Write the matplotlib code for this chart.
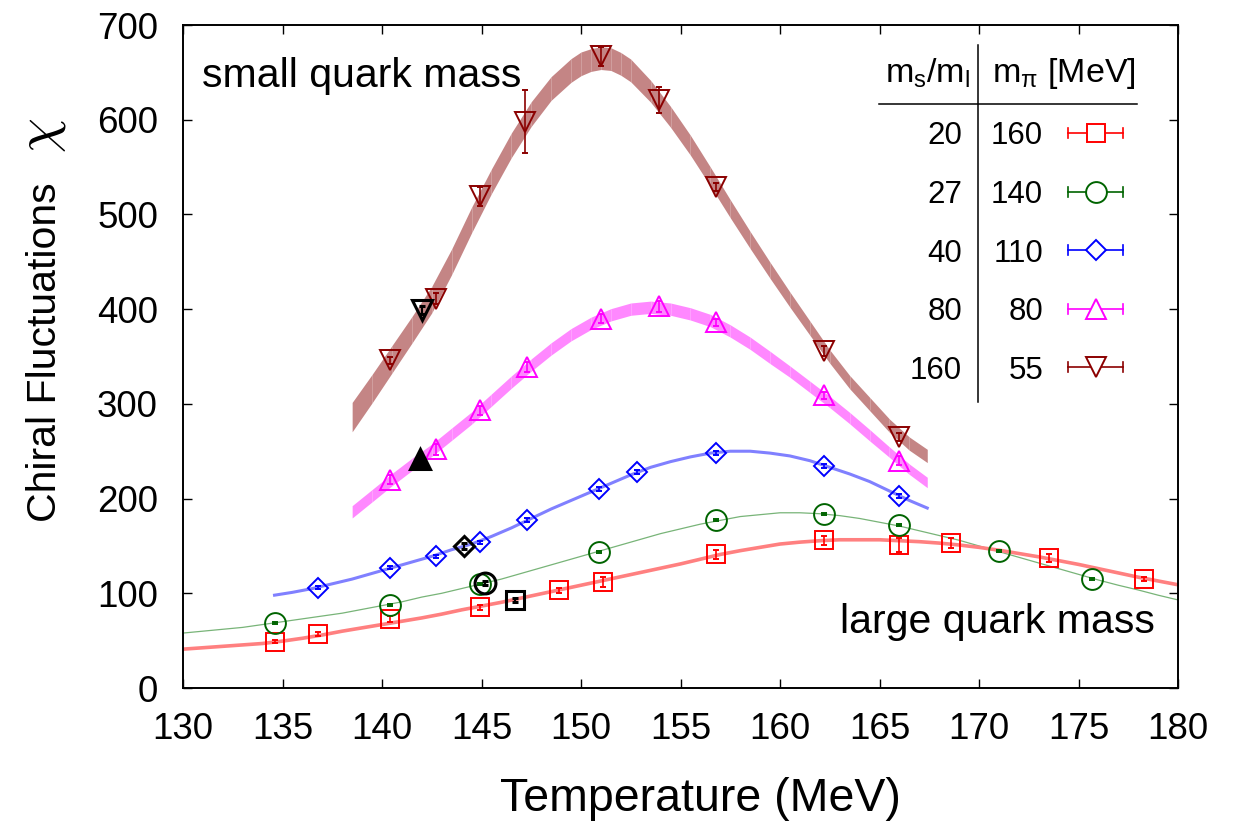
import matplotlib
matplotlib.use('Agg')
import matplotlib.pyplot as plt
from matplotlib.lines import Line2D


W, H = 1242, 825

# Fit bands / lines.
BROWN_FIT_T = [138.5, 139.5, 140.5, 141.5, 142.5, 143.5, 144.5, 145.5, 146.5, 147.5,
               148.5, 149.5, 150.0, 150.5, 151.0, 151.5, 152.0, 152.5, 153.5, 154.5,
               155.5, 156.5, 157.5, 158.5, 159.5, 160.5, 161.5, 162.5, 163.5, 164.5,
               165.5, 166.5, 167.4]
BROWN_FIT_MID = [286, 316, 347, 378, 410, 450, 494, 535, 573, 606,
                 633, 652, 659, 663, 665, 664, 659, 652, 630, 603,
                 573, 540, 506, 473, 441, 410, 380, 350, 323, 300,
                 277, 258, 245]
BROWN_FIT_HALF = [15.5, 15, 14.5, 14, 14, 13.5, 13.5, 13, 13, 13,
                  12.5, 12.5, 12.5, 12, 12, 12, 12, 12, 11.5, 11,
                  10.5, 10, 9.5, 9, 8.5, 8, 7.5, 7, 7, 7,
                  7, 7, 7]

MAGENTA_FIT_T = [138.5, 139.5, 140.5, 141.5, 142.5, 143.5, 144.5, 145.5, 146.5, 147.5,
                 148.5, 149.5, 150.5, 151.5, 152.5, 153.5, 154.5, 155.5, 156.5, 157.5,
                 158.5, 159.5, 160.5, 161.5, 162.5, 163.5, 164.5, 165.5, 166.5, 167.4]
MAGENTA_FIT_MID = [186, 203, 220, 236, 251, 268, 285, 304, 323, 341,
                   358, 373, 385, 394, 400, 402, 400, 395, 388, 377,
                   364, 349, 334, 318, 302, 285, 267, 249, 231, 217]
MAGENTA_FIT_HALF = [6.5, 6.5, 6.5, 6.5, 6.5, 6.5, 6.5, 6.5, 6.5, 6.5,
                    6.5, 6.5, 6.5, 6.5, 6.5, 6.5, 6.5, 6.5, 6.5, 6.5,
                    6.5, 6.5, 6, 6, 6, 6, 6, 5.5, 5.5, 5.5]

BLUE_FIT_T = [134.6, 135.5, 136.5, 137.5, 138.5, 139.5, 140.5, 141.5, 142.5, 143.5,
              144.5, 145.5, 146.5, 147.5, 148.5, 149.5, 150.5, 151.5, 152.5, 153.5,
              154.5, 155.5, 156.5, 157.5, 158.5, 159.5, 160.5, 161.5, 162.5, 163.5,
              164.5, 165.5, 166.5, 167.4]
BLUE_FIT_MID = [98, 101, 105, 110, 115, 121, 127, 133, 139, 146,
                152, 160, 169, 179, 189, 198, 207, 216, 225, 233,
                239, 244, 248, 250, 250, 248, 245, 240, 233, 226,
                218, 208, 198, 190]

GREEN_FIT_T = list(range(130, 181))
GREEN_FIT_MID = [58, 60, 62, 64, 67, 70, 73, 76, 79, 83,
                 87, 91, 96, 100, 105, 110, 115, 121, 127, 133,
                 139, 145, 151, 157, 163, 168, 173, 177, 181, 183,
                 185, 185, 184, 182, 179, 175, 171, 166, 161, 156,
                 150, 144, 138, 132, 126, 120, 114, 108.5, 103.5, 98,
                 93]

RED_FIT_T = list(range(130, 181))
RED_FIT_MID = [41, 42.5, 44, 45.5, 47, 49.5, 52.5, 56, 60, 63.5,
               67, 70.5, 74, 78, 82.5, 86.5, 90.5, 95, 99.5, 104,
               108.5, 113, 117.5, 122, 126.5, 131, 136, 141, 145, 148.5,
               152, 154, 155.5, 156.5, 156.5, 156.5, 155.5, 154.5, 153, 151,
               148.5, 145.5, 142, 138.5, 134.5, 130.5, 126, 121.5, 117, 113,
               109]

# Lattice data points.
RED_T = [134.6, 136.8, 140.4, 144.9, 148.9, 151.1, 156.8, 162.2, 166.0, 168.6, 173.5, 178.3]
RED_CHI = [49, 57, 73, 85, 103, 112, 141, 156, 151, 153, 137, 115]
RED_ERR = [2, 2.5, 3, 3, 3, 5, 5, 5, 7, 5, 4, 2.5]

GREEN_T = [134.6, 140.4, 144.9, 150.9, 156.8, 162.2, 166.0, 171.0, 175.7]
GREEN_CHI = [69, 88, 110, 144, 177, 184, 172.5, 145, 115]
GREEN_ERR = [1, 1, 1, 1, 1, 1, 1, 1, 1]

BLUE_T = [136.8, 140.4, 142.7, 144.9, 147.3, 150.9, 152.8, 156.8, 162.2, 166.0]
BLUE_CHI = [106, 127, 139, 154, 177, 210, 228, 248, 234, 203]
BLUE_ERR = [1.5, 1.5, 1.5, 1.5, 2, 2, 2, 2, 2, 2]

MAGENTA_T = [140.4, 142.7, 144.9, 147.3, 151.0, 153.9, 156.8, 162.2, 166.0]
MAGENTA_CHI = [220, 252, 293, 339, 390, 403, 386, 309, 240]
MAGENTA_ERR = [5, 6, 5, 5, 5, 6, 4, 4, 5]

BROWN_T = [140.4, 142.7, 144.9, 147.2, 151.0, 153.9, 156.8, 162.2, 166.0]
BROWN_CHI = [346, 411, 519, 598, 667, 621, 529, 356, 265]
BROWN_ERR = [4, 6, 10, 33, 10, 14, 4, 5, 4]

# Black points (one per mass).
BLACK_T = [146.7, 145.2, 144.1, 141.9, 142.0]
BLACK_CHI = [93, 111, 150, 242, 399]
BLACK_ERR = [2, 2, 3, 3, 4]

MS_ML = ['20', '27', '40', '80', '160']
M_PI = ['160', '140', '110', '80', '55']
COLORS = ['#ff0000', '#006400', '#0000ff', '#ff00ff', '#8b0000']
MARKERS = ['s', 'o', 'D', '^', 'v']
MSIZES = [13.5, 15, 10.2, 14.5, 14.5]

FONT = 'Liberation Sans'


def fig_xy(x, y):
    '''Pixel position (from top left) to figure fraction.'''
    return x / W, 1 - y / H


def draw_band(ax, t, mid, half, color):
    lo = [m - h for m, h in zip(mid, half)]
    hi = [m + h for m, h in zip(mid, half)]
    ax.fill_between(t, lo, hi, color=color, lw=0, zorder=1)
    # faint stripes like the original fill
    ax.vlines(t[1:-1], lo[1:-1], hi[1:-1], colors='white', alpha=0.25, lw=0.6, zorder=1.1)


def draw_points(ax, t, chi, err, color, marker, ms):
    ax.errorbar(t, chi, yerr=err, fmt=marker, ms=ms, mfc='none', mec=color, mew=1.4,
                ecolor=color, elinewidth=1.2, capsize=2.5, capthick=1.2, zorder=5)


def main():
    plt.rcParams['font.family'] = FONT

    fig = plt.figure(figsize=(W / 100, H / 100), dpi=100)
    ax = fig.add_axes([183 / W, 137 / H, 995 / W, 663 / H])

    # Fits.
    draw_band(ax, BROWN_FIT_T, BROWN_FIT_MID, BROWN_FIT_HALF, '#c48585')
    draw_band(ax, MAGENTA_FIT_T, MAGENTA_FIT_MID, MAGENTA_FIT_HALF, '#ff88ff')
    ax.plot(BLUE_FIT_T, BLUE_FIT_MID, color='#8080ff', lw=2.2, zorder=2)
    ax.plot(GREEN_FIT_T, GREEN_FIT_MID, color='#78b478', lw=0.9, zorder=2)
    ax.plot(RED_FIT_T, RED_FIT_MID, color='#ff8080', lw=2.6, zorder=2)

    # Data.
    series = [
        (RED_T, RED_CHI, RED_ERR),
        (GREEN_T, GREEN_CHI, GREEN_ERR),
        (BLUE_T, BLUE_CHI, BLUE_ERR),
        (MAGENTA_T, MAGENTA_CHI, MAGENTA_ERR),
        (BROWN_T, BROWN_CHI, BROWN_ERR),
    ]
    for (t, chi, err), color, marker, ms in zip(series, COLORS, MARKERS, MSIZES):
        draw_points(ax, t, chi, err, color, marker, ms)

    for i, marker in enumerate(MARKERS):
        fill = 'black' if marker == '^' else 'none'
        ax.errorbar([BLACK_T[i]], [BLACK_CHI[i]], yerr=[BLACK_ERR[i]], fmt=marker,
                    ms=MSIZES[i], mfc=fill, mec='black', mew=2.2, ecolor='black',
                    elinewidth=1.5, capsize=2.5, zorder=6)

    # Axes.
    ax.set_xlim(130, 180)
    ax.set_ylim(0, 700)
    ax.set_xticks(range(130, 181, 5))
    ax.set_yticks(range(0, 701, 100))
    ax.tick_params(direction='in', length=6.5, width=1, top=True, right=True,
                   labelsize=26.5)
    ax.tick_params(axis='x', pad=17)
    ax.tick_params(axis='y', pad=18)
    for spine in ax.spines.values():
        spine.set_linewidth(1.4)

    # Axis titles.
    fig.text(*fig_xy(700, 811), 'Temperature (MeV)', fontsize=33.5, ha='center', va='baseline')
    fig.text(*fig_xy(45, 352), 'Chiral Fluctuations', fontsize=29.5, rotation=90,
             ha='center', va='center')
    fig.text(*fig_xy(42, 135), r'$\chi$', fontsize=40, rotation=90, ha='center',
             va='center', math_fontfamily='cm')

    # Annotations.
    fig.text(*fig_xy(202, 87), 'small quark mass', fontsize=29.5, ha='left', va='baseline')
    fig.text(*fig_xy(1155, 633), 'large quark mass', fontsize=29.5, ha='right', va='baseline')

    # Legend table.
    fig.add_artist(Line2D([978 / W, 978 / W], [1 - 45 / H, 1 - 402 / H], color='black',
                          lw=1.1, transform=fig.transFigure))
    fig.add_artist(Line2D([879 / W, 1137 / W], [1 - 104 / H, 1 - 104 / H], color='black',
                          lw=1.1, transform=fig.transFigure))
    fig.text(*fig_xy(970, 82), r'm$_\mathregular{s}$/m$_\mathregular{l}$', fontsize=24.5,
             ha='right', va='baseline')
    fig.text(*fig_xy(992, 82), r'm$_\mathregular{π}$ [MeV]', fontsize=24.5,
             ha='left', va='baseline')

    for i in range(len(MS_ML)):
        yc = 133 + i * 58.6
        fig.text(*fig_xy(962, yc + 11.5), MS_ML[i], fontsize=22.5, ha='right', va='baseline')
        fig.text(*fig_xy(1043, yc + 11.5), M_PI[i], fontsize=22.5, ha='right', va='baseline')
        y = 1 - yc / H
        fig.add_artist(Line2D([1068 / W, 1123 / W], [y, y], color=COLORS[i], lw=1.2,
                              transform=fig.transFigure))
        for xe in (1068, 1123):
            fig.add_artist(Line2D([xe / W, xe / W], [y - 5 / H, y + 5 / H], color=COLORS[i],
                                  lw=1.2, transform=fig.transFigure))
        fig.add_artist(Line2D([1096 / W], [y], marker=MARKERS[i], ms=MSIZES[i], mfc='white',
                              mec=COLORS[i], mew=1.4, transform=fig.transFigure))

    fig.savefig('out.png', dpi=100)


if __name__ == '__main__':
    main()
